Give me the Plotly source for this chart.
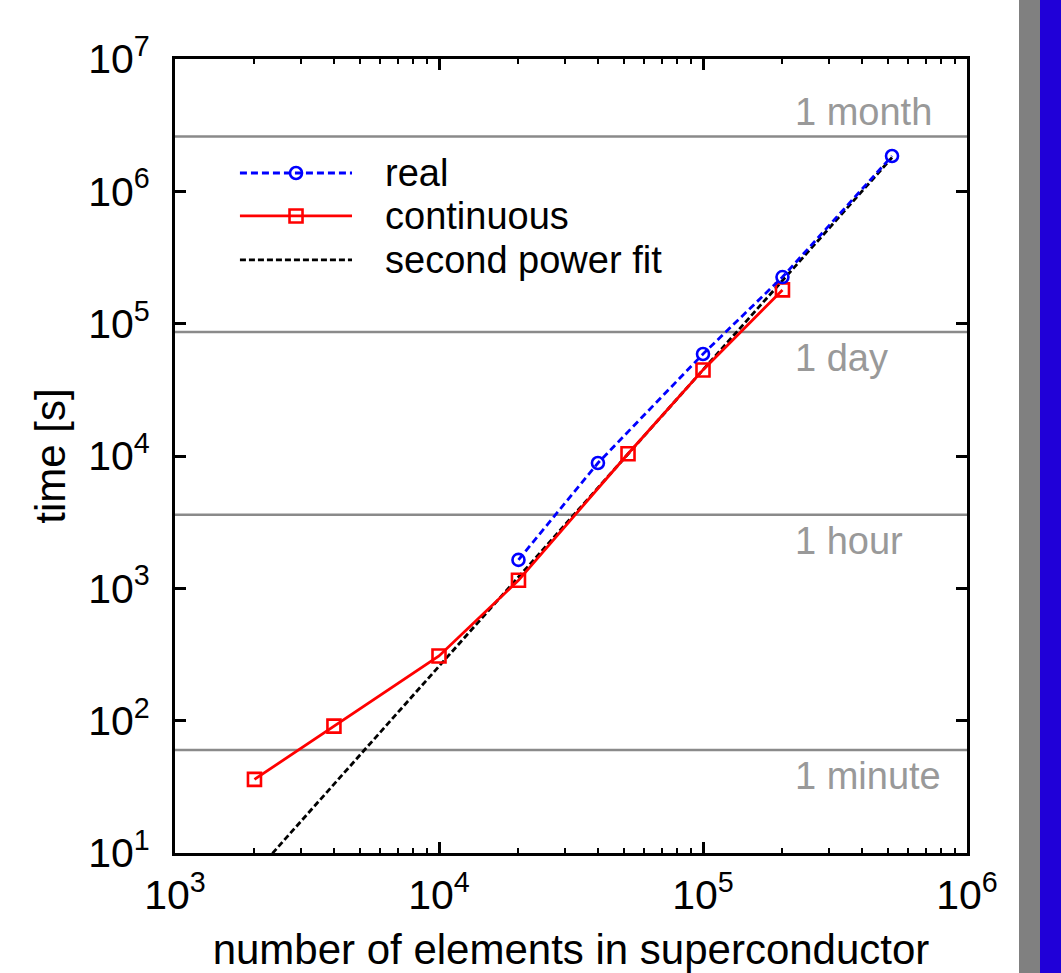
import math
import plotly.graph_objects as go

# Run times of the solver versus problem size
real_n = [20000, 40000, 100000, 200000, 520000]
real_t = [1640, 8850, 59000, 225000, 1.85e6]

cont_n = [2000, 4000, 10000, 20000, 52000, 100000, 200000]
cont_t = [36, 91, 308, 1150, 10400, 44700, 180000]

# Second power fit, end points
fit_n = [2000, 520000]
fit_t = [7.0, 1.8e6]

# Reference durations in seconds
ref_names = ["1 minute", "1 hour", "1 day", "1 month"]
ref_secs = [60, 3600, 86400, 2592000]

x_ticks = [1e3, 1e4, 1e5, 1e6]
x_ticktext = ["10<sup>3</sup>", "10<sup>4</sup>", "10<sup>5</sup>", "10<sup>6</sup>"]
y_ticks = [1e1, 1e2, 1e3, 1e4, 1e5, 1e6, 1e7]
y_ticktext = ["10<sup>%d</sup>" % k for k in range(1, 8)]

FONT = "Liberation Sans, Arial, Helvetica, sans-serif"
GRAY_LINE = "#8a8a8a"
GRAY_TEXT = "#999999"
LW = 2.8

fig = go.Figure()

# horizontal duration markers
for name, s in zip(ref_names, ref_secs):
    fig.add_trace(go.Scatter(
        x=[1e3, 1e6], y=[s, s], mode="lines",
        line=dict(color=GRAY_LINE, width=2.5),
        showlegend=False, hoverinfo="skip"))

fig.add_trace(go.Scatter(
    x=fit_n, y=fit_t, mode="lines", name="second power fit",
    line=dict(color="black", width=LW, dash="6px,3px"), showlegend=False))

fig.add_trace(go.Scatter(
    x=cont_n, y=cont_t, mode="lines+markers", name="continuous",
    line=dict(color="#ff0000", width=LW),
    marker=dict(symbol="square-open", size=13, color="#ff0000",
                line=dict(width=2.6, color="#ff0000")),
    showlegend=False))

fig.add_trace(go.Scatter(
    x=real_n, y=real_t, mode="lines+markers", name="real",
    line=dict(color="#0000ff", width=LW, dash="7px,4px"),
    marker=dict(symbol="circle-open", size=12, color="#0000ff",
                line=dict(width=2.6, color="#0000ff")),
    showlegend=False))

# legend samples drawn on an overlaid unit axis pair
leg_x0, leg_x1, leg_xm = 0.082, 0.2235, 0.1528
leg_rows = [0.8564, 0.8023, 0.7469]
leg_labels = ["real", "continuous", "second power fit"]

fig.add_trace(go.Scatter(
    x=[leg_x0, leg_x1], y=[leg_rows[0]] * 2, xaxis="x2", yaxis="y2",
    mode="lines", line=dict(color="#0000ff", width=LW, dash="7px,4px"),
    showlegend=False, hoverinfo="skip"))
fig.add_trace(go.Scatter(
    x=[leg_xm], y=[leg_rows[0]], xaxis="x2", yaxis="y2", mode="markers",
    marker=dict(symbol="circle-open", size=12, color="#0000ff",
                line=dict(width=2.6, color="#0000ff")),
    showlegend=False, hoverinfo="skip"))
fig.add_trace(go.Scatter(
    x=[leg_x0, leg_x1], y=[leg_rows[1]] * 2, xaxis="x2", yaxis="y2",
    mode="lines", line=dict(color="#ff0000", width=LW),
    showlegend=False, hoverinfo="skip"))
fig.add_trace(go.Scatter(
    x=[leg_xm], y=[leg_rows[1]], xaxis="x2", yaxis="y2", mode="markers",
    marker=dict(symbol="square-open", size=13, color="#ff0000",
                line=dict(width=2.6, color="#ff0000")),
    showlegend=False, hoverinfo="skip"))
fig.add_trace(go.Scatter(
    x=[leg_x0, leg_x1], y=[leg_rows[2]] * 2, xaxis="x2", yaxis="y2",
    mode="lines", line=dict(color="black", width=LW, dash="6px,3px"),
    showlegend=False, hoverinfo="skip"))

annotations = []
for lbl, yy in zip(leg_labels, leg_rows):
    annotations.append(dict(
        x=0.2626, y=yy, xref="paper", yref="paper", text=lbl,
        showarrow=False, xanchor="left", yanchor="middle",
        font=dict(family=FONT, size=38, color="black")))

for name, s in zip(ref_names, ref_secs):
    above = name == "1 month"
    annotations.append(dict(
        x=math.log10(2.2e5), y=math.log10(s), xref="x", yref="y", text=name,
        showarrow=False, xanchor="left",
        yanchor="bottom" if above else "top",
        yshift=2 if above else -3,
        font=dict(family=FONT, size=38, color=GRAY_TEXT)))

# frame strips at the right edge
shapes = [
    dict(type="rect", xref="paper", yref="paper",
         x0=(1019 - 175) / 792, x1=(1040 - 175) / 792, y0=-0.16, y1=1.08,
         fillcolor="#808080", line=dict(width=0), layer="above"),
    dict(type="rect", xref="paper", yref="paper",
         x0=(1040 - 175) / 792, x1=(1063 - 175) / 792, y0=-0.16, y1=1.08,
         fillcolor="#2000d8", line=dict(width=0), layer="above"),
]

axis_common = dict(
    type="log", showgrid=False, zeroline=False, automargin=False,
    showline=True, linecolor="black", linewidth=3, mirror="ticks",
    ticks="inside", ticklen=11, tickwidth=2.6, tickcolor="black",
    tickmode="array",
    tickfont=dict(family=FONT, size=41, color="black"),
)

fig.update_layout(
    width=1061, height=973,
    margin=dict(l=175, r=94, t=59, b=120),
    paper_bgcolor="white", plot_bgcolor="white",
    font=dict(family=FONT, color="black"),
    xaxis=dict(
        axis_common, range=[3, 6], tickvals=x_ticks, ticktext=x_ticktext,
        ticklabelstandoff=4,
        minor=dict(ticks="inside", ticklen=5, tickwidth=2, tickcolor="black",
                   tickmode="array",
                   tickvals=[m * 10 ** d for d in (3, 4, 5) for m in range(2, 10)]),
        title=dict(text="number of elements in superconductor",
                   font=dict(family=FONT, size=42, color="black"), standoff=24),
    ),
    yaxis=dict(
        axis_common, range=[1, 7], tickvals=y_ticks, ticktext=y_ticktext,
        ticklabelstandoff=14,
        title=dict(text="time [s]",
                   font=dict(family=FONT, size=42, color="black"), standoff=10),
    ),
    xaxis2=dict(overlaying="x", range=[0, 1], visible=False, fixedrange=True),
    yaxis2=dict(overlaying="y", range=[0, 1], visible=False, fixedrange=True),
    annotations=annotations,
    shapes=shapes,
    showlegend=False,
)

fig.write_html("out.html")
